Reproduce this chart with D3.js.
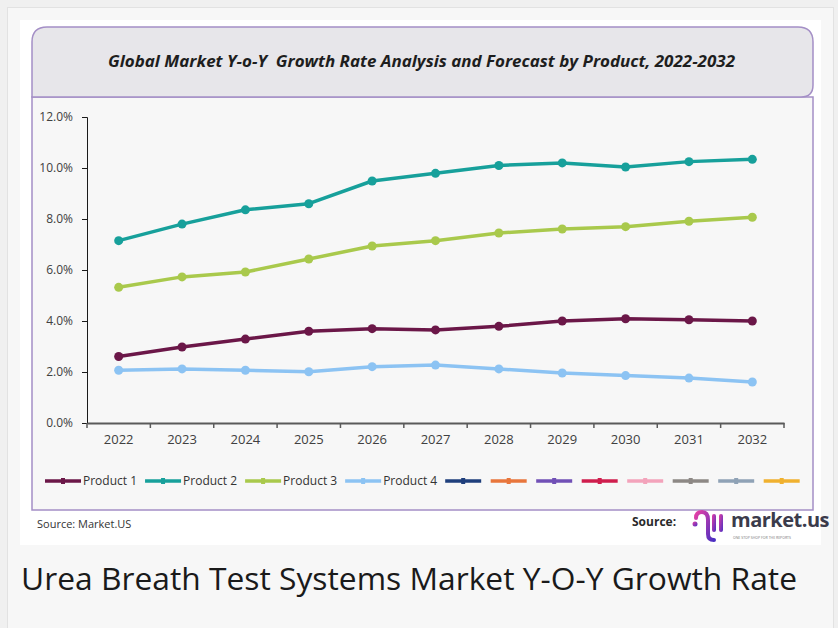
<!DOCTYPE html>
<html>
<head>
<meta charset="utf-8">
<script src="https://cdn.jsdelivr.net/npm/d3@7"></script>
<style>
  body { margin: 0; background: #f0f0f0; }
  svg { display: block; }
</style>
</head>
<body>
<svg id="chart" width="838" height="628"></svg>
<script>
// data
var years = ["2022", "2023", "2024", "2025", "2026", "2027", "2028", "2029", "2030", "2031", "2032"];
var product1 = [2.61, 2.98, 3.29, 3.60, 3.70, 3.65, 3.79, 4.00, 4.09, 4.05, 4.00];
var product2 = [7.15, 7.80, 8.36, 8.60, 9.49, 9.79, 10.10, 10.20, 10.04, 10.25, 10.34];
var product3 = [5.32, 5.73, 5.92, 6.43, 6.94, 7.15, 7.45, 7.61, 7.70, 7.91, 8.07];
var product4 = [2.07, 2.12, 2.07, 2.01, 2.21, 2.27, 2.12, 1.96, 1.86, 1.76, 1.61];
var yTicks = [0, 2, 4, 6, 8, 10, 12];
var seriesNames = ["Product 1", "Product 2", "Product 3", "Product 4"];
var seriesColors = ["#6b1748", "#17a09b", "#a9c94c", "#8cc3f3"];
var legendNames = ["Product 1", "Product 2", "Product 3", "Product 4", "", "", "", "", "", "", "", ""];
var legendColors = ["#6b1748", "#17a09b", "#a9c94c", "#8cc3f3", "#1f3f7c", "#e8763c", "#7150b6", "#cf1d4d", "#f3a3bb", "#8d8885", "#8fa2b6", "#f0b12f"];

var svg = d3.select("#chart");

// page card + white picture area
svg.append("rect").attr("x", 7.5).attr("y", 7.5).attr("width", 826).attr("height", 630)
    .attr("fill", "#f7f7f7").attr("stroke", "#e2e2e2");
svg.append("rect").attr("x", 20).attr("y", 20).attr("width", 801).attr("height", 525).attr("fill", "#ffffff");

// plot panel and title box
svg.append("rect").attr("x", 32).attr("y", 97).attr("width", 781).attr("height", 413)
    .attr("fill", "#f7f7f7").attr("stroke", "#a48fc6").attr("stroke-width", 1.5);
svg.append("path")
    .attr("d", "M32,97 L32,42 Q32,27 47,27 L798,27 Q813,27 813,42 L813,85 Q813,97 801,97 Z")
    .attr("fill", "#e7e6ea").attr("stroke", "#a48fc6").attr("stroke-width", 1.5);
svg.append("text")
    .attr("x", 108).attr("y", 67)
    .attr("textLength", 627).attr("lengthAdjust", "spacingAndGlyphs")
    .attr("font-family", "Open Sans").attr("font-size", 15.5).attr("font-weight", "bold").attr("font-style", "italic")
    .attr("fill", "#1e1e1e")
    .style("white-space", "pre")
    .text("Global Market Y-o-Y  Growth Rate Analysis and Forecast by Product, 2022-2032");

// scales
var x = d3.scaleBand().domain(years).range([87, 784]);
var y = d3.scaleLinear().domain([0, 12]).range([423, 117]);

// y axis
var yAxis = svg.append("g").attr("transform", "translate(87,0)")
    .call(d3.axisLeft(y).tickValues(yTicks).tickSize(5).tickPadding(9)
        .tickFormat(function(d) { return d3.format(".1f")(d) + "%"; }));
yAxis.selectAll("path, line").attr("stroke", "#1a1a1a");
yAxis.selectAll("text").attr("font-family", "Open Sans").attr("font-size", 12).attr("fill", "#404040");

// x axis, ticks sit between categories
var xAxis = svg.append("g").attr("transform", "translate(0,423)")
    .call(d3.axisBottom(x).tickSize(0).tickPadding(12));
xAxis.select(".domain").attr("stroke", "#5a5a5a").attr("stroke-width", 2);
xAxis.selectAll("text").attr("font-family", "Open Sans").attr("font-size", 13).attr("fill", "#404040");
var bounds = years.map(function(d) { return x(d); }).concat([x(years[years.length - 1]) + x.bandwidth()]);
svg.append("g").selectAll("line").data(bounds).enter().append("line")
    .attr("x1", function(d) { return d; }).attr("x2", function(d) { return d; })
    .attr("y1", 423).attr("y2", 428)
    .attr("stroke", "#5a5a5a").attr("stroke-width", 1.5);

// lines
var series = [product1, product2, product3, product4];
var line = d3.line()
    .x(function(d, i) { return x(years[i]) + x.bandwidth() / 2; })
    .y(function(d) { return y(d); });

series.forEach(function(vals, k) {
    var g = svg.append("g");
    g.append("path").datum(vals)
        .attr("d", line)
        .attr("fill", "none")
        .attr("stroke", seriesColors[k])
        .attr("stroke-width", 3.5)
        .attr("stroke-linejoin", "round");
    g.selectAll("circle").data(vals).enter().append("circle")
        .attr("cx", function(d, i) { return x(years[i]) + x.bandwidth() / 2; })
        .attr("cy", function(d) { return y(d); })
        .attr("r", 4.5)
        .attr("fill", seriesColors[k]);
});

// legend
var lg = svg.append("g");
var cx = 45, ly = 481;
legendNames.forEach(function(name, i) {
    lg.append("line").attr("x1", cx).attr("x2", cx + 36).attr("y1", ly).attr("y2", ly)
        .attr("stroke", legendColors[i]).attr("stroke-width", 3.5);
    lg.append("rect").attr("x", cx + 16).attr("y", ly - 3).attr("width", 4).attr("height", 6)
        .attr("fill", legendColors[i]);
    cx += 37;
    if (name) {
        var t = lg.append("text").attr("x", cx + 1).attr("y", ly + 4)
            .attr("font-family", "Open Sans").attr("font-size", 12).attr("fill", "#333")
            .text(name);
        cx += t.node().getComputedTextLength() + 9;
    } else {
        cx += 8.5;
    }
});

// sources
svg.append("text").attr("x", 37).attr("y", 528)
    .attr("font-family", "Open Sans").attr("font-size", 11).attr("fill", "#333")
    .text("Source: Market.US");
svg.append("text").attr("x", 632).attr("y", 526)
    .attr("font-family", "Open Sans").attr("font-size", 12).attr("font-weight", "bold").attr("fill", "#2a2a2a")
    .text("Source:");

// market.us logo
var defs = svg.append("defs");
var grad = defs.append("linearGradient").attr("id", "lg1").attr("x1", 0).attr("y1", 0).attr("x2", 1).attr("y2", 1);
grad.append("stop").attr("offset", "0%").attr("stop-color", "#e33fa6");
grad.append("stop").attr("offset", "100%").attr("stop-color", "#4b2fc2");
var logo = svg.append("g").attr("transform", "translate(692,510)");
logo.append("circle").attr("cx", 3).attr("cy", 14).attr("r", 2.5).attr("fill", "url(#lg1)");
logo.append("path").attr("d", "M4,8 Q4,2 10,2 Q16,2 16,10 L16,24 Q16,30 22,30")
    .attr("fill", "none").attr("stroke", "url(#lg1)").attr("stroke-width", 4).attr("stroke-linecap", "round");
logo.append("rect").attr("x", 20).attr("y", 4).attr("width", 4).attr("height", 18).attr("rx", 2).attr("fill", "url(#lg1)");
logo.append("rect").attr("x", 27).attr("y", 4).attr("width", 4).attr("height", 18).attr("rx", 2).attr("fill", "url(#lg1)");
svg.append("text").attr("x", 731).attr("y", 527)
    .attr("font-family", "Open Sans").attr("font-size", 20).attr("font-weight", "bold").attr("fill", "#3b3b4b")
    .attr("letter-spacing", -0.5)
    .text("market.us");
svg.append("text").attr("x", 733).attr("y", 539)
    .attr("font-family", "Open Sans").attr("font-size", 3.5).attr("fill", "#777")
    .text("ONE STOP SHOP FOR THE REPORTS");

// caption
svg.append("text").attr("x", 21).attr("y", 590)
    .attr("font-family", "Open Sans").attr("font-size", 31.8).attr("fill", "#1a1a1a")
    .attr("textLength", 776).attr("lengthAdjust", "spacingAndGlyphs")
    .text("Urea Breath Test Systems Market Y-O-Y Growth Rate");
</script>
</body>
</html>
